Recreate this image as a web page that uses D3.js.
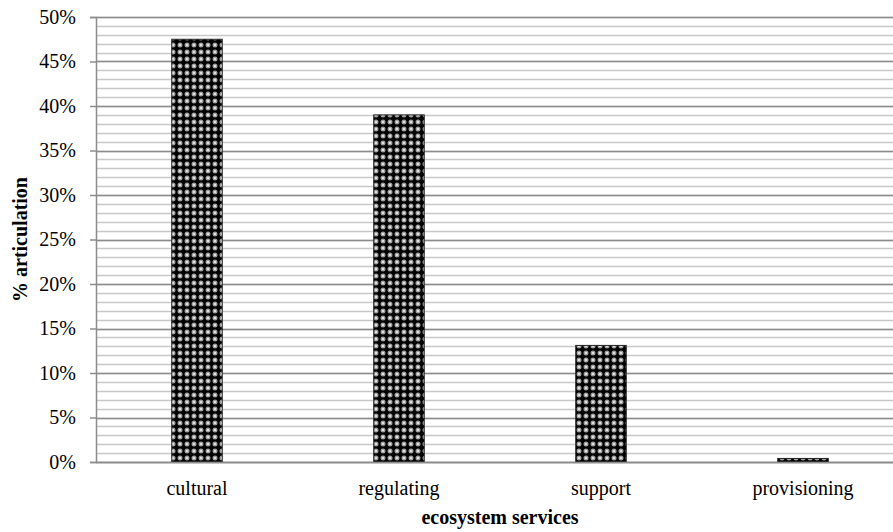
<html>
<head>
<script src="https://d3js.org/d3.v7.min.js"></script>
<style>
  body { margin: 0; background: #fff; }
  text { font-family: "Liberation Serif", "Times New Roman", serif; }
</style>
</head>
<body>
<div id="chart"></div>
<script>
var categories = ["cultural", "regulating", "support", "provisioning"];
var values = [0.475, 0.39, 0.131, 0.004];
var majorTicks = [0, 0.05, 0.10, 0.15, 0.20, 0.25, 0.30, 0.35, 0.40, 0.45, 0.50];
var minorTicks = d3.range(0, 51).map(function(d) { return d / 100; });

var W = 893, H = 532;
var margin = {top: 17, right: 0, bottom: 70, left: 96};
var width = W - margin.left - margin.right,
    height = H - margin.top - margin.bottom;
// the category area runs past the right edge of the picture (it is cut off)
var bandWidth = 808;

var svg = d3.select("#chart").append("svg")
    .attr("width", W)
    .attr("height", H);

// checkered fill like the office pattern
var defs = svg.append("defs");
var pat = defs.append("pattern")
    .attr("id", "checks")
    .attr("patternUnits", "userSpaceOnUse")
    .attr("width", 7).attr("height", 7);
pat.append("rect").attr("width", 7).attr("height", 7).attr("fill", "#000");
[[0, 0], [7, 0], [0, 7], [7, 7]].forEach(function(p) {
  pat.append("circle").attr("cx", p[0]).attr("cy", p[1]).attr("r", 2.5).attr("fill", "#a0a0a0");
  pat.append("circle").attr("cx", p[0]).attr("cy", p[1]).attr("r", 1.1).attr("fill", "#f0f0f0");
});

var g = svg.append("g")
    .attr("transform", "translate(" + margin.left + "," + margin.top + ")");

var x = d3.scaleBand()
    .domain(categories)
    .range([0, bandWidth])
    .paddingInner(0.75)
    .paddingOuter(0.375);

var y = d3.scaleLinear()
    .domain([0, 0.5])
    .range([height, 0]);

// minor gridlines
g.selectAll("line.minor")
  .data(minorTicks)
  .enter().append("line")
    .attr("class", "minor")
    .attr("x1", 0).attr("x2", width)
    .attr("y1", function(d) { return Math.round(y(d)) + 0.5; })
    .attr("y2", function(d) { return Math.round(y(d)) + 0.5; })
    .attr("stroke", "#c8c8c8")
    .attr("stroke-width", 1.5);

// major gridlines
g.selectAll("line.major")
  .data(majorTicks)
  .enter().append("line")
    .attr("class", "major")
    .attr("x1", 0).attr("x2", width)
    .attr("y1", function(d) { return Math.round(y(d)) + 0.5; })
    .attr("y2", function(d) { return Math.round(y(d)) + 0.5; })
    .attr("stroke", "#8c8c8c")
    .attr("stroke-width", 1.5);

// bars
g.selectAll("rect.bar")
  .data(values)
  .enter().append("rect")
    .attr("class", "bar")
    .attr("x", function(d, i) { return x(categories[i]); })
    .attr("y", function(d) { return y(d); })
    .attr("width", x.bandwidth())
    .attr("height", function(d) { return height - y(d); })
    .attr("fill", "url(#checks)")
    .attr("stroke", "#222")
    .attr("stroke-width", 1);

// y axis
var yAxis = g.append("g")
    .call(d3.axisLeft(y).tickValues(majorTicks).tickSize(6).tickPadding(14)
      .tickFormat(d3.format(".0%")));
yAxis.select(".domain").attr("stroke", "#8c8c8c").attr("stroke-width", 1.5);
yAxis.selectAll(".tick line").attr("stroke", "#8c8c8c").attr("stroke-width", 1.5);
yAxis.selectAll("text")
    .attr("font-size", 20)
    .attr("fill", "#000")
    .style("font-family", "Liberation Serif");

// x axis
var xAxis = g.append("g")
    .attr("transform", "translate(0," + height + ")")
    .call(d3.axisBottom(x).tickSize(0).tickPadding(19));
xAxis.select(".domain").remove();
g.append("line")
    .attr("x1", 0).attr("x2", width)
    .attr("y1", Math.round(height) + 0.5).attr("y2", Math.round(height) + 0.5)
    .attr("stroke", "#8c8c8c").attr("stroke-width", 1.5);
xAxis.selectAll("text")
    .attr("font-size", 20)
    .attr("fill", "#000")
    .style("font-family", "Liberation Serif");

// axis titles
svg.append("text")
    .attr("x", margin.left + bandWidth / 2)
    .attr("y", 524)
    .attr("text-anchor", "middle")
    .attr("font-size", 20)
    .attr("font-weight", "bold")
    .text("ecosystem services");

svg.append("text")
    .attr("transform", "translate(27," + (margin.top + height / 2) + ") rotate(-90)")
    .attr("text-anchor", "middle")
    .attr("font-size", 20)
    .attr("font-weight", "bold")
    .text("% articulation");
</script>
</body>
</html>
